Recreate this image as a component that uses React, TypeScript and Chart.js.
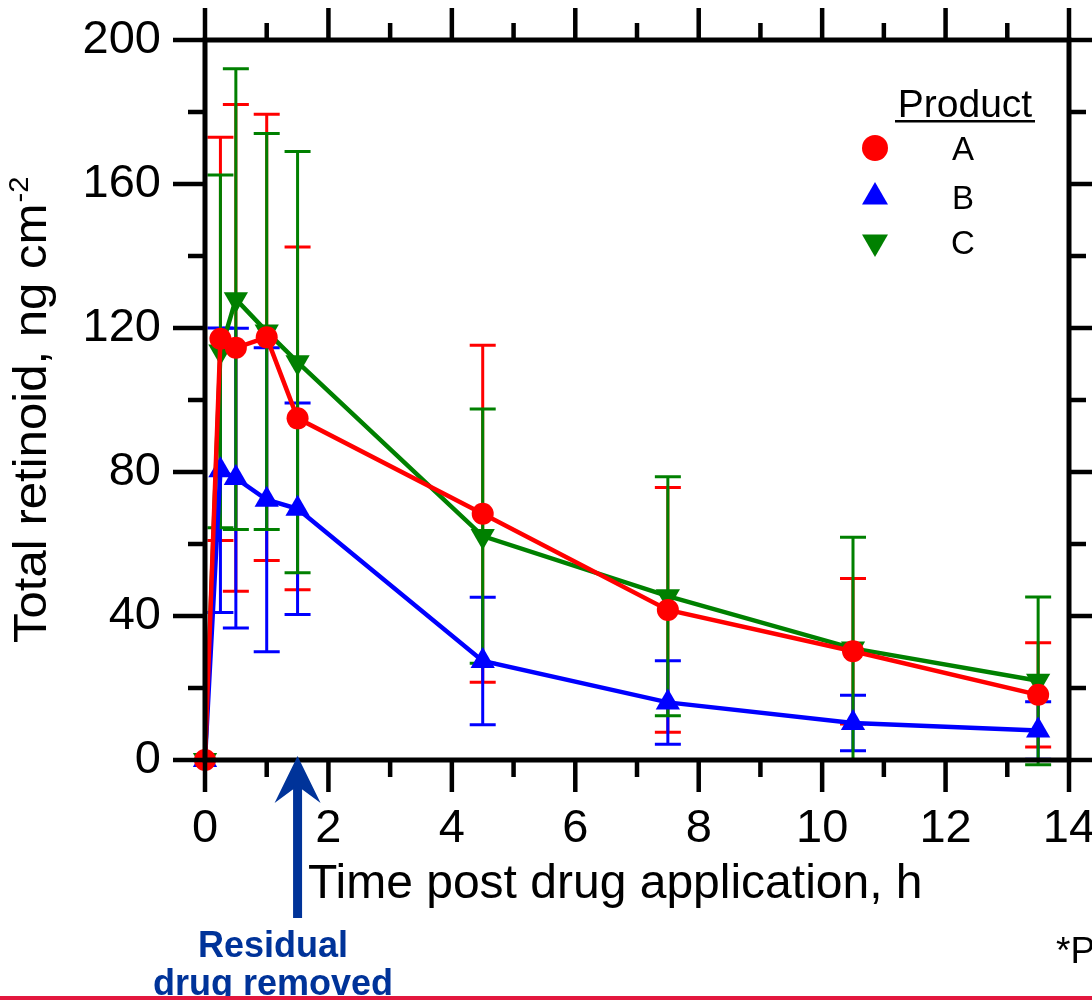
import React, { useEffect, useRef } from 'react';
import { Chart, registerables } from 'chart.js';

Chart.register(...registerables);

// ---- data ----
const times = [0, 0.25, 0.5, 1, 1.5, 4.5, 7.5, 10.5, 13.5];
const productLabels = ['A', 'B', 'C'];
const meanA = [0, 117, 114.5, 117.4, 94.9, 68.4, 41.7, 30.2, 18.1];
const sdA = [0, 56, 67.6, 62, 47.6, 46.8, 34, 20.2, 14.5];
const meanB = [0, 80.5, 78.3, 72.3, 69.8, 27.5, 16, 10.3, 8.2];
const sdB = [0, 39.5, 41.6, 42.2, 29.4, 17.7, 11.6, 7.7, 8];
const meanC = [0, 113.5, 128, 119, 110.5, 62.2, 45.5, 31, 22];
const sdC = [0, 49, 64, 55, 58.5, 35.3, 33.2, 30.9, 23.3];
const xTickValues = [0, 2, 4, 6, 8, 10, 12, 14];
const yTickValues = [0, 40, 80, 120, 160, 200];
const xMinorStep = 1;
const yMinorStep = 20;
const xTitle = 'Time post drug application, h';
const yTitleMain = 'Total retinoid, ng cm';
const yTitleSup = '-2';
const legendTitle = 'Product';
const annotationLines = ['Residual', 'drug removed'];
const annotationTime = 1.5;
const footnote = '*P';

const FONT = '"Liberation Sans", Arial, Helvetica, sans-serif';
const colors = ['#ff0000', '#0000ff', '#008000'];
const sds = [sdA, sdB, sdC];

const decorPlugin = {
  id: 'decor',
  beforeDatasetsDraw(chart: any) {
    const ctx = chart.ctx;
    const xs = chart.scales.x;
    const ys = chart.scales.y;
    ctx.save();
    ctx.lineWidth = 3;
    ctx.lineCap = 'butt';
    chart.data.datasets.forEach((ds: any, di: number) => {
      ctx.strokeStyle = colors[di];
      ds.data.forEach((p: any, i: number) => {
        const sd = sds[di][i];
        if (!sd) return;
        const x = xs.getPixelForValue(p.x);
        const yt = ys.getPixelForValue(p.y + sd);
        const yb = ys.getPixelForValue(p.y - sd);
        ctx.beginPath();
        ctx.moveTo(x, yt);
        ctx.lineTo(x, yb);
        ctx.moveTo(x - 13, yt);
        ctx.lineTo(x + 13, yt);
        ctx.moveTo(x - 13, yb);
        ctx.lineTo(x + 13, yb);
        ctx.stroke();
      });
    });
    ctx.restore();
  },
  afterDraw(chart: any) {
    const ctx = chart.ctx;
    const xs = chart.scales.x;
    const ys = chart.scales.y;
    const { left, right, top, bottom } = chart.chartArea;
    ctx.save();
    // frame
    ctx.strokeStyle = '#000';
    ctx.lineWidth = 5;
    ctx.strokeRect(left, top, right - left, bottom - top);
    // ticks
    ctx.lineWidth = 4.5;
    ctx.beginPath();
    for (let v = xs.min; v <= xs.max + 1e-9; v += xMinorStep) {
      const major = xTickValues.includes(v);
      const len = major ? 32 : 17;
      const x = xs.getPixelForValue(v);
      ctx.moveTo(x, bottom);
      ctx.lineTo(x, bottom + len);
      ctx.moveTo(x, top);
      ctx.lineTo(x, top - len);
    }
    for (let v = ys.min; v <= ys.max + 1e-9; v += yMinorStep) {
      const major = yTickValues.includes(v);
      const len = major ? 32 : 17;
      const y = ys.getPixelForValue(v);
      ctx.moveTo(left, y);
      ctx.lineTo(left - len, y);
      ctx.moveTo(right, y);
      ctx.lineTo(right + len, y);
    }
    ctx.stroke();

    // x title
    ctx.fillStyle = '#000';
    ctx.font = `48px ${FONT}`;
    ctx.textAlign = 'left';
    ctx.textBaseline = 'alphabetic';
    ctx.fillText(xTitle, 308, 898);

    // y title
    ctx.save();
    ctx.translate(46, 643);
    ctx.rotate(-Math.PI / 2);
    ctx.scale(1.045, 1);
    ctx.font = `47px ${FONT}`;
    ctx.fillText(yTitleMain, 0, 0);
    const w = ctx.measureText(yTitleMain).width;
    ctx.font = `28px ${FONT}`;
    ctx.fillText(yTitleSup, w + 1, -18);
    ctx.restore();

    // legend
    ctx.font = `39px ${FONT}`;
    ctx.textAlign = 'center';
    ctx.fillText(legendTitle, 965, 117);
    ctx.fillRect(895, 120, 140, 2.5);
    ctx.font = `33px ${FONT}`;
    const legendY = [148, 197, 242];
    chart.data.datasets.forEach((ds: any, di: number) => {
      const y = legendY[di];
      ctx.fillStyle = colors[di];
      ctx.beginPath();
      if (ds.pointStyle === 'circle') {
        ctx.arc(875, y, 13, 0, Math.PI * 2);
      } else {
        const r = 15;
        const s = ds.pointRotation === 180 ? -1 : 1;
        ctx.moveTo(875, y - s * r);
        ctx.lineTo(875 + r * 0.866, y + s * r * 0.5);
        ctx.lineTo(875 - r * 0.866, y + s * r * 0.5);
        ctx.closePath();
      }
      ctx.fill();
      ctx.fillStyle = '#000';
      ctx.fillText(ds.label, 963, y + 12);
    });

    // annotation arrow
    const ax = xs.getPixelForValue(annotationTime);
    const blue = '#003399';
    ctx.fillStyle = blue;
    ctx.beginPath();
    ctx.moveTo(ax, bottom - 4);
    ctx.lineTo(ax + 23, 803);
    ctx.lineTo(ax, 786);
    ctx.lineTo(ax - 23, 803);
    ctx.closePath();
    ctx.fill();
    ctx.fillRect(ax - 4.5, 785, 9, 918 - 785);
    ctx.font = `bold 36px ${FONT}`;
    ctx.textAlign = 'center';
    ctx.fillText(annotationLines[0], 273, 957);
    ctx.fillText(annotationLines[1], 273, 995);

    // footnote
    ctx.fillStyle = '#000';
    ctx.font = `37px ${FONT}`;
    ctx.textAlign = 'left';
    ctx.fillText(footnote, 1056, 963);

    // bottom rule
    ctx.fillStyle = '#e3173e';
    ctx.fillRect(0, 996, chart.width, 4);
    ctx.restore();
  },
};

export default function App() {
  const ref = useRef<HTMLCanvasElement | null>(null);
  useEffect(() => {
    if (!ref.current) return;
    const mk = (m: number[]) => times.map((t, i) => ({ x: t, y: m[i] }));
    const chart = new Chart(ref.current, {
      type: 'line',
      data: {
        datasets: [
          {
            label: productLabels[0],
            data: mk(meanA),
            borderColor: colors[0],
            backgroundColor: colors[0],
            pointBackgroundColor: colors[0],
            pointBorderColor: colors[0],
            borderWidth: 4.5,
            pointStyle: 'circle',
            pointRadius: 11,
            pointBorderWidth: 0,
            clip: false,
          },
          {
            label: productLabels[1],
            data: mk(meanB),
            borderColor: colors[1],
            backgroundColor: colors[1],
            pointBackgroundColor: colors[1],
            pointBorderColor: colors[1],
            borderWidth: 4.5,
            pointStyle: 'triangle',
            pointRadius: 14,
            pointBorderWidth: 0,
            clip: false,
          },
          {
            label: productLabels[2],
            data: mk(meanC),
            borderColor: colors[2],
            backgroundColor: colors[2],
            pointBackgroundColor: colors[2],
            pointBorderColor: colors[2],
            borderWidth: 4.5,
            pointStyle: 'triangle',
            pointRotation: 180,
            pointRadius: 14,
            pointBorderWidth: 0,
            clip: false,
          },
        ] as any,
      },
      options: {
        responsive: false,
        animation: false,
        devicePixelRatio: 1,
        layout: { padding: { top: 40, right: 23, left: 0, bottom: 0 } },
        plugins: { legend: { display: false }, tooltip: { enabled: false } },
        scales: {
          x: {
            type: 'linear',
            min: 0,
            max: 14,
            afterBuildTicks: (s: any) => {
              s.ticks = xTickValues.map((v) => ({ value: v }));
            },
            ticks: {
              font: { size: 47, family: FONT },
              color: '#000',
              padding: 41,
              maxRotation: 0,
              autoSkip: false,
            },
            grid: { display: false, drawTicks: false },
            border: { display: false },
            afterFit: (s: any) => {
              s.height = 240;
              s.paddingLeft = 0;
              s.paddingRight = 0;
            },
          },
          y: {
            type: 'linear',
            min: 0,
            max: 200,
            afterBuildTicks: (s: any) => {
              s.ticks = yTickValues.map((v) => ({ value: v }));
            },
            ticks: {
              font: { size: 47, family: FONT },
              color: '#000',
              padding: 44,
              autoSkip: false,
            },
            grid: { display: false, drawTicks: false },
            border: { display: false },
            afterFit: (s: any) => {
              s.width = 205;
              s.paddingTop = 0;
              s.paddingBottom = 0;
            },
          },
        },
      } as any,
      plugins: [decorPlugin],
    });
    return () => chart.destroy();
  }, []);
  return (
    <div style={{ position: 'absolute', left: 0, top: 0, width: 1092, height: 1000, background: '#fff' }}>
      <canvas ref={ref} width={1092} height={1000} style={{ display: 'block' }} />
    </div>
  );
}
